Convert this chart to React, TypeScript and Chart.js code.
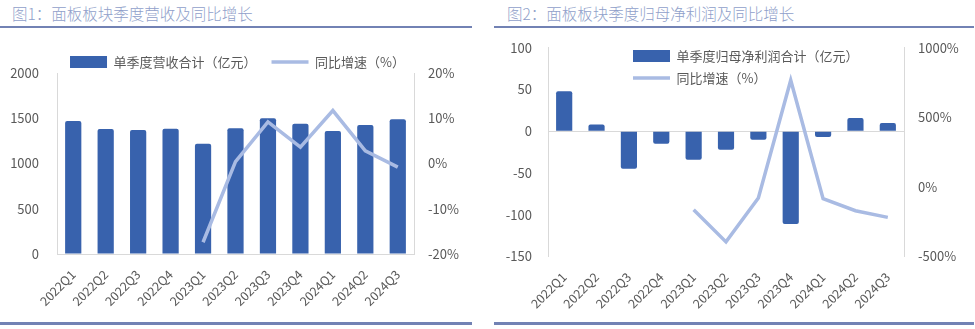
import React, { useEffect, useRef } from 'react';
import { Chart, registerables } from 'chart.js';

Chart.register(...registerables);

// ---------- data ----------
const categories = ['2022Q1', '2022Q2', '2022Q3', '2022Q4', '2023Q1', '2023Q2', '2023Q3', '2023Q4', '2024Q1', '2024Q2', '2024Q3'];
const revenue = [1470, 1381, 1370, 1385, 1219, 1389, 1499, 1440, 1359, 1425, 1488];
const revenueYoY = [null, null, null, null, -17.4, 0.4, 9.2, 3.6, 11.7, 2.8, -0.8];
const profit = [48, 8, -45, -15, -34, -22, -10, -111, -7, 16, 10];
const profitYoY = [null, null, null, null, -164, -395, -80, 767, -85, -171, -219];

const title1 = '图1：面板板块季度营收及同比增长';
const title2 = '图2：面板板块季度归母净利润及同比增长';
const revenueLabel = '单季度营收合计（亿元）';
const profitLabel = '单季度归母净利润合计（亿元）';
const yoyLabel = '同比增速（%）';

const revenueAxis = { min: 0, max: 2000, step: 500 };
const revenueYoYAxis = { min: -20, max: 20, step: 10 };
const profitAxis = { min: -150, max: 100, step: 50 };
const profitYoYAxis = { min: -500, max: 1000, step: 500 };

// ---------- style ----------
const FONT = '"Noto Sans CJK SC", "Noto Sans", sans-serif';
const BAR = '#3862AD';
const LINE = '#A9BBE3';
const AXIS = '#D9D9D9';
const TICK = '#595959';
const TITLE = '#909FCA';
const RULE = '#7282B4';

Chart.defaults.font.family = FONT;

const legendPlacer = {
  id: 'legendPlacer',
  beforeDraw(chart: any, _args: any, opts: any) {
    const lg = chart.legend;
    if (!lg || !opts) return;
    if (opts.top != null) lg.top = opts.top;
    if (opts.left != null) lg.left = opts.left;
  },
};

function makeLabels(chart: any) {
  const items = (Chart.defaults.plugins.legend.labels as any).generateLabels(chart);
  items.sort((a: any, b: any) => a.datasetIndex - b.datasetIndex);
  return items.map((it: any) => {
    const ds = chart.data.datasets[it.datasetIndex];
    const isLine = ds.type === 'line';
    return {
      ...it,
      pointStyle: isLine ? 'line' : 'rect',
      lineWidth: isLine ? 3.5 : 0,
      strokeStyle: isLine ? LINE : BAR,
      fillStyle: isLine ? LINE : BAR,
      fontColor: TICK,
    };
  });
}

function tickFont() {
  return { family: FONT, size: 13 };
}

function buildConfig(kind: 1 | 2): any {
  const isRev = kind === 1;
  const barData = isRev ? revenue : profit;
  const lineData = isRev ? revenueYoY : profitYoY;
  const lAxis = isRev ? revenueAxis : profitAxis;
  const rAxis = isRev ? revenueYoYAxis : profitYoYAxis;
  return {
    type: 'bar',
    data: {
      labels: categories,
      datasets: [
        {
          type: 'bar',
          label: isRev ? revenueLabel : profitLabel,
          data: barData,
          backgroundColor: BAR,
          borderRadius: 2,
          barPercentage: 0.5,
          categoryPercentage: 1,
          yAxisID: 'y',
          order: 2,
        },
        {
          type: 'line',
          label: yoyLabel,
          data: lineData,
          borderColor: LINE,
          backgroundColor: LINE,
          borderWidth: 3.5,
          pointRadius: 0,
          pointHoverRadius: 0,
          tension: 0,
          yAxisID: 'y1',
          order: 1,
        },
      ],
    },
    options: {
      responsive: false,
      animation: false,
      events: [],
      layout: { padding: { top: isRev ? 5 : 0, left: 0, right: 0, bottom: 0 } },
      plugins: {
        tooltip: { enabled: false },
        legend: {
          position: isRev ? 'top' : 'chartArea',
          align: isRev ? 'center' : 'start',
          labels: {
            usePointStyle: true,
            pointStyleWidth: 37,
            boxHeight: 12,
            padding: isRev ? 15 : 9,
            color: TICK,
            font: { family: FONT, size: 13 },
            generateLabels: makeLabels,
          },
        },
        legendPlacer: isRev ? { top: 10.5 } : { top: 16.5, left: 134 },
      },
      scales: {
        x: {
          grid: { display: false, drawTicks: false },
          border: { display: false },
          ticks: {
            autoSkip: false,
            maxRotation: 45,
            minRotation: 45,
            padding: 13,
            color: TICK,
            font: { family: FONT, size: 12.5 },
          },
          afterFit: (s: any) => {
            s.height = isRev ? 68 : 65.5;
          },
        },
        y: {
          position: 'left',
          min: lAxis.min,
          max: lAxis.max,
          ticks: {
            stepSize: lAxis.step,
            padding: isRev ? 18 : 16,
            color: TICK,
            font: tickFont(),
            callback: (v: any) => String(v),
          },
          grid: {
            drawTicks: false,
            color: (c: any) => (c.tick && c.tick.value === 0 ? AXIS : 'rgba(0,0,0,0)'),
            lineWidth: 1,
          },
          border: { display: true, color: AXIS },
          afterFit: (s: any) => {
            s.width = isRev ? 57 : 58;
          },
        },
        y1: {
          position: 'right',
          min: rAxis.min,
          max: rAxis.max,
          ticks: {
            stepSize: rAxis.step,
            padding: 14,
            color: TICK,
            font: tickFont(),
            callback: (v: any) => v + '%',
          },
          grid: { display: false, drawTicks: false },
          border: { display: true, color: AXIS },
          afterFit: (s: any) => {
            s.width = isRev ? 61 : 71;
          },
        },
      },
    },
    plugins: [legendPlacer],
  };
}

function Panel({ kind, left, top, width, height }: { kind: 1 | 2; left: number; top: number; width: number; height: number }) {
  const ref = useRef<HTMLCanvasElement | null>(null);
  useEffect(() => {
    if (!ref.current) return;
    const chart = new Chart(ref.current, buildConfig(kind));
    return () => chart.destroy();
  }, [kind]);
  const isRev = kind === 1;
  const ruleLeft = isRev ? 0 : 494;
  const ruleWidth = isRev ? 472 : 480;
  return (
    <>
      <div
        style={{
          position: 'absolute',
          left: isRev ? 12 : 507,
          top: 3,
          fontFamily: FONT,
          fontSize: 15.5,
          fontWeight: 300,
          lineHeight: '21px',
          color: TITLE,
          whiteSpace: 'nowrap',
        }}
      >
        {isRev ? title1 : title2}
      </div>
      <div style={{ position: 'absolute', left: ruleLeft, top: 26, width: ruleWidth, height: 2, background: RULE }} />
      <canvas
        ref={ref}
        width={width}
        height={height}
        style={{ position: 'absolute', left, top, width, height }}
      />
      <div style={{ position: 'absolute', left: ruleLeft, top: 322, width: ruleWidth, height: 3, background: RULE }} />
    </>
  );
}

export default function App() {
  return (
    <div
      style={{
        position: 'fixed',
        left: 0,
        top: 0,
        width: 975,
        height: 329,
        background: '#fff',
        overflow: 'hidden',
      }}
    >
      <Panel kind={1} left={0} top={30} width={475} height={292} />
      <Panel kind={2} left={490} top={24} width={485} height={298} />
    </div>
  );
}
